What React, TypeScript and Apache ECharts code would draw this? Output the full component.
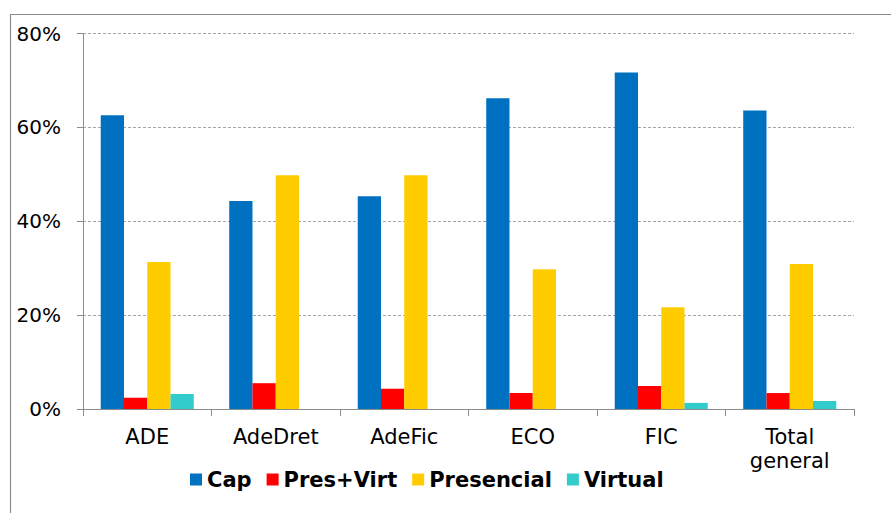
import React, { useEffect, useRef } from "react";
import * as echarts from "echarts";

const categories = ["ADE", "AdeDret", "AdeFic", "ECO", "FIC", "Total\ngeneral"];
const seriesNames = ["Cap", "Pres+Virt", "Presencial", "Virtual"];
const capValues = [62.6, 44.3, 45.3, 66.2, 71.7, 63.6];
const presVirtValues = [2.4, 5.5, 4.3, 3.4, 4.9, 3.4];
const presencialValues = [31.3, 49.8, 49.8, 29.8, 21.7, 30.9];
const virtualValues = [3.2, 0, 0, 0, 1.3, 1.7];
const colors = ["#0070C0", "#FF0000", "#FFCC00", "#33CCCC"];
const yTicks = { min: 0, max: 80, interval: 20 };

export default function App() {
  const ref = useRef<HTMLDivElement>(null);
  useEffect(() => {
    if (!ref.current) return;
    const chart = echarts.init(ref.current, null, { renderer: "svg" });
    const values = [capValues, presVirtValues, presencialValues, virtualValues];
    chart.setOption({
      animation: false,
      backgroundColor: "#ffffff",
      color: colors,
      graphic: [
        { type: "line", shape: { x1: 10, y1: 14.5, x2: 891, y2: 14.5 }, style: { stroke: "#8c8c8c", lineWidth: 1.2 } },
        { type: "line", shape: { x1: 10.5, y1: 14, x2: 10.5, y2: 513 }, style: { stroke: "#8c8c8c", lineWidth: 1.2 } },
      ],
      grid: { left: 83, right: 37, top: 33.5, bottom: 104, containLabel: false },
      legend: {
        data: seriesNames,
        left: 185,
        top: 464,
        itemWidth: 12,
        itemHeight: 12,
        itemGap: 15,
        icon: "rect",
        textStyle: { fontFamily: "DejaVu Sans", fontWeight: "bold", fontSize: 21, color: "#000" },
      },
      xAxis: {
        type: "category",
        data: categories,
        axisLine: { lineStyle: { color: "#8c8c8c", width: 1 } },
        axisTick: { show: true, length: 7, lineStyle: { color: "#8c8c8c" } },
        axisLabel: {
          fontFamily: "DejaVu Sans",
          fontSize: 21,
          color: "#000",
          lineHeight: 24,
          margin: 16,
          interval: 0,
        },
      },
      yAxis: {
        type: "value",
        min: yTicks.min,
        max: yTicks.max,
        interval: yTicks.interval,
        axisLine: { show: true, lineStyle: { color: "#8c8c8c", width: 1 } },
        axisTick: { show: true, length: 6, lineStyle: { color: "#8c8c8c" } },
        splitLine: { lineStyle: { color: "#a6a6a6", type: [3, 2], width: 1 } },
        axisLabel: {
          formatter: "{value}%",
          fontFamily: "DejaVu Sans",
          fontSize: 20,
          color: "#000",
          margin: 22,
        },
      },
      series: seriesNames.map((name, i) => ({
        name,
        type: "bar",
        data: values[i],
        barGap: "0%",
        barCategoryGap: "27.6%",
        itemStyle: { color: colors[i] },
      })),
    });
    return () => chart.dispose();
  }, []);
  return (
    <div
      ref={ref}
      style={{ position: "fixed", left: 0, top: 0, width: 891, height: 513 }}
    />
  );
}
